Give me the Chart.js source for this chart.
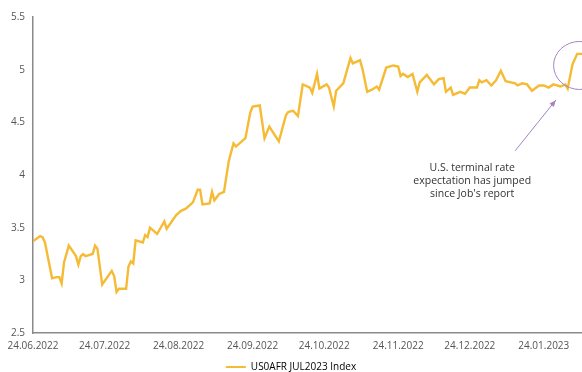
<!DOCTYPE html>
<html>
<head>
<meta charset="utf-8">
<script src="https://cdn.jsdelivr.net/npm/chart.js@4/dist/chart.umd.min.js"></script>
<style>
  html, body { margin: 0; padding: 0; background: #fff; }
  #wrap { width: 582px; height: 372px; }
</style>
</head>
<body>
<div id="wrap"><canvas id="chart" width="582" height="372"></canvas></div>
<script>
// data
var dates = [
  '2022-06-24','2022-06-27','2022-06-28','2022-06-29','2022-07-02','2022-07-04','2022-07-05','2022-07-06','2022-07-07','2022-07-09',
  '2022-07-12','2022-07-13','2022-07-14','2022-07-15','2022-07-16','2022-07-19','2022-07-20','2022-07-21','2022-07-23','2022-07-27',
  '2022-07-28','2022-07-29','2022-07-30','2022-08-02','2022-08-03','2022-08-04','2022-08-05','2022-08-06','2022-08-09','2022-08-10',
  '2022-08-11','2022-08-12','2022-08-15','2022-08-18','2022-08-19','2022-08-23','2022-08-25','2022-08-27','2022-08-30','2022-09-01',
  '2022-09-02','2022-09-03','2022-09-06','2022-09-07','2022-09-08','2022-09-10','2022-09-12','2022-09-14','2022-09-16','2022-09-17',
  '2022-09-21','2022-09-23','2022-09-24','2022-09-27','2022-09-29','2022-10-01','2022-10-05','2022-10-08','2022-10-09','2022-10-11',
  '2022-10-13','2022-10-15','2022-10-18','2022-10-19','2022-10-21','2022-10-22','2022-10-25','2022-10-26','2022-10-28','2022-10-29',
  '2022-11-01','2022-11-04','2022-11-05','2022-11-08','2022-11-09','2022-11-11','2022-11-13','2022-11-15','2022-11-16','2022-11-19',
  '2022-11-22','2022-11-24','2022-11-25','2022-11-26','2022-11-28','2022-11-30','2022-12-02','2022-12-03','2022-12-06','2022-12-09',
  '2022-12-11','2022-12-13','2022-12-14','2022-12-16','2022-12-17','2022-12-20','2022-12-22','2022-12-24','2022-12-27','2022-12-28',
  '2022-12-29','2022-12-31','2023-01-02','2023-01-04','2023-01-06','2023-01-08','2023-01-12','2023-01-13','2023-01-15','2023-01-17',
  '2023-01-19','2023-01-22','2023-01-24','2023-01-26','2023-01-28','2023-01-31','2023-02-02','2023-02-03','2023-02-05','2023-02-07','2023-02-09'
];
var rates = [
  3.37,3.42,3.41,3.36,3.02,3.03,3.03,2.97,3.17,3.33,
  3.23,3.15,3.23,3.25,3.23,3.25,3.33,3.30,2.96,3.09,
  3.04,2.89,2.92,2.92,3.13,3.18,3.16,3.38,3.36,3.43,
  3.41,3.50,3.44,3.56,3.49,3.62,3.66,3.68,3.74,3.86,
  3.86,3.72,3.73,3.84,3.76,3.82,3.84,4.13,4.30,4.27,
  4.35,4.59,4.65,4.66,4.35,4.46,4.32,4.57,4.60,4.61,
  4.56,4.86,4.83,4.78,4.96,4.82,4.86,4.83,4.65,4.80,
  4.87,5.11,5.06,5.09,5.01,4.79,4.81,4.84,4.81,5.02,
  5.04,5.03,4.94,4.96,4.93,4.96,4.79,4.88,4.95,4.86,
  4.91,4.92,4.79,4.83,4.76,4.79,4.77,4.83,4.83,4.90,
  4.88,4.90,4.85,4.90,4.99,4.89,4.87,4.85,4.87,4.86,
  4.80,4.85,4.85,4.83,4.86,4.84,4.86,4.82,5.05,5.15,5.15
];
var tickDates = ['2022-06-24','2022-07-24','2022-08-24','2022-09-24','2022-10-24','2022-11-24','2022-12-24','2023-01-24'];
var seriesLabel = 'US0AFR JUL2023 Index';
var noteLines = ['U.S. terminal rate', 'expectation has jumped', "since Job's report"];

var start = Date.UTC(2022, 5, 24);
function dayOf(s) {
  var p = s.split('-');
  return (Date.UTC(+p[0], p[1] - 1, +p[2]) - start) / 86400000;
}
function fmt(s) {
  var p = s.split('-');
  return p[2] + '.' + p[1] + '.' + p[0];
}

var points = dates.map(function (d, i) { return {x: dayOf(d), y: rates[i]}; });

var gold = 'rgb(245,187,52)';
var purple = '#a383c2';

// callout: ellipse round the jump, arrow and note (placed in data units)
var note = {
  ring: {date: '2023-02-08', value: 5.04, rx: 26, ry: 24},
  arrowFrom: {date: '2023-01-12', value: 4.23},
  arrowTo: {date: '2023-01-29', value: 4.71},
  text: {date: '2022-12-25', value: 4.07, lineHeight: 13}
};

var calloutPlugin = {
  id: 'callout',
  afterDatasetsDraw: function (chart) {
    var ctx = chart.ctx, xs = chart.scales.x, ys = chart.scales.y;
    ctx.save();
    // ring
    var cx = xs.getPixelForValue(dayOf(note.ring.date));
    var cy = ys.getPixelForValue(note.ring.value);
    ctx.strokeStyle = purple;
    ctx.lineWidth = 1;
    ctx.beginPath();
    ctx.ellipse(cx, cy, note.ring.rx, note.ring.ry, 0, 0, Math.PI * 2);
    ctx.stroke();
    // arrow
    var x1 = xs.getPixelForValue(dayOf(note.arrowFrom.date));
    var y1 = ys.getPixelForValue(note.arrowFrom.value);
    var x2 = xs.getPixelForValue(dayOf(note.arrowTo.date));
    var y2 = ys.getPixelForValue(note.arrowTo.value);
    ctx.beginPath();
    ctx.moveTo(x1, y1);
    ctx.lineTo(x2, y2);
    ctx.stroke();
    var a = Math.atan2(y2 - y1, x2 - x1);
    ctx.fillStyle = purple;
    ctx.beginPath();
    ctx.moveTo(x2, y2);
    ctx.lineTo(x2 - 7 * Math.cos(a - 0.4), y2 - 7 * Math.sin(a - 0.4));
    ctx.lineTo(x2 - 7 * Math.cos(a + 0.4), y2 - 7 * Math.sin(a + 0.4));
    ctx.closePath();
    ctx.fill();
    // text
    var tx = xs.getPixelForValue(dayOf(note.text.date));
    var ty = ys.getPixelForValue(note.text.value);
    ctx.fillStyle = '#333';
    ctx.font = '10.5px "Open Sans", sans-serif';
    ctx.textAlign = 'center';
    ctx.textBaseline = 'middle';
    noteLines.forEach(function (line, i) {
      ctx.fillText(line, tx, ty + i * note.text.lineHeight);
    });
    ctx.restore();
  }
};

Chart.defaults.font.family = '"Open Sans", sans-serif';

var chart = new Chart(document.getElementById('chart').getContext('2d'), {
  type: 'line',
  data: {
    datasets: [{
      label: seriesLabel,
      data: points,
      borderColor: gold,
      backgroundColor: gold,
      borderWidth: 2.4,
      pointRadius: 0,
      tension: 0
    }]
  },
  options: {
    responsive: false,
    animation: false,
    layout: {padding: {top: 17, right: 0, bottom: -10, left: 0}},
    scales: {
      x: {
        type: 'linear',
        min: 0,
        max: 230,
        afterBuildTicks: function (scale) {
          scale.ticks = tickDates.map(function (d) { return {value: dayOf(d)}; });
        },
        grid: {display: false, drawTicks: false},
        border: {display: true, color: '#8a8a8a', width: 1.5},
        ticks: {
          autoSkip: false,
          maxRotation: 0,
          color: '#555',
          font: {size: 10},
          padding: 7,
          callback: function (v, i) { return fmt(tickDates[i]); }
        }
      },
      y: {
        min: 2.5,
        max: 5.5,
        afterFit: function (scale) { scale.width = 33; },
        grid: {display: false, drawTicks: false},
        border: {display: true, color: '#8a8a8a', width: 1.5},
        ticks: {
          stepSize: 0.5,
          color: '#555',
          font: {size: 10},
          padding: 8,
          callback: function (v) { return String(Number(v.toFixed(1))); }
        }
      }
    },
    plugins: {
      legend: {
        position: 'bottom',
        labels: {
          color: '#333',
          font: {size: 10},
          boxWidth: 20,
          boxHeight: 2,
          padding: 3,
          generateLabels: function (c) {
            return [{text: seriesLabel, fillStyle: gold, strokeStyle: gold, lineWidth: 0, datasetIndex: 0}];
          }
        }
      },
      tooltip: {enabled: false}
    }
  },
  plugins: [calloutPlugin]
});
</script>
</body>
</html>
